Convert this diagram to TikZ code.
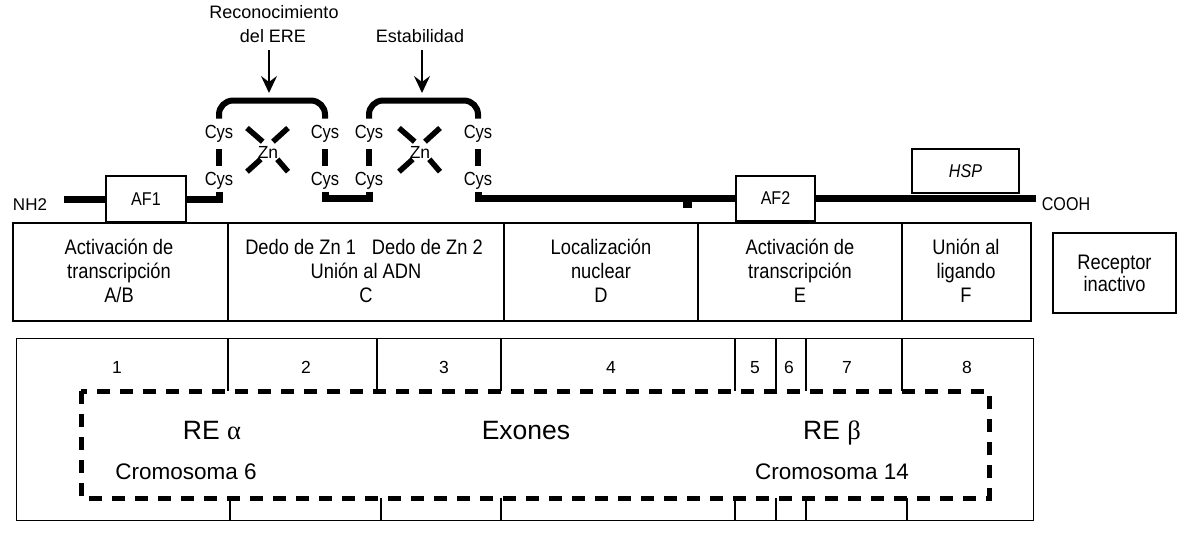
\documentclass[tikz,border=0pt]{standalone}
\usepackage{fontspec}
\setmainfont{Liberation Sans}
\newfontfamily\cond[FakeStretch=0.87]{Liberation Sans}
\newfontfamily\grk{Liberation Serif}
\usetikzlibrary{arrows.meta}
\begin{document}
\begin{tikzpicture}[x=1pt,y=-1pt,
  txt/.style={anchor=base,inner sep=0pt},
  dom/.style={txt,font=\cond\fontsize{21}{24}\selectfont},
  lab/.style={txt,font=\fontsize{18}{21}\selectfont},
  cys/.style={txt,font=\cond\fontsize{19}{21}\selectfont},
  num/.style={txt,font=\fontsize{17.5}{20}\selectfont},
  big/.style={txt,font=\fontsize{26.5}{30}\selectfont},
  chrom/.style={txt,font=\fontsize{22.5}{26}\selectfont},
  endlab/.style={txt,font=\cond\fontsize{18.5}{21}\selectfont},
  box/.style={draw,line width=1.2pt,inner sep=0pt,font=\cond\fontsize{18.5}{21}\selectfont},
  backbone/.style={line width=7pt},
  bond/.style={line width=6pt,shorten <=7pt,shorten >=5.5pt},
  bracket/.style={line width=6pt,rounded corners=14pt},
  arm/.style={line width=5.5pt},
  arr/.style={line width=1.8pt,shorten <=8pt,-{Stealth[length=17pt,width=16pt,inset=6pt]}},
  rule/.style={line width=1.2pt},
  dashbox/.style={line width=5pt,dash pattern=on 13pt off 10pt},
]
\useasboundingbox (0,0) rectangle (1185,544);
\fill[white] (0,0) rectangle (1185,544);

% ---- top labels and arrows
\node[lab] (rec1) at (274,18) {Reconocimiento};
\node[lab] (rec2) at (273,42) {del ERE};
\node[lab] (est) at (420,42) {Estabilidad};
\coordinate (t1) at (269,93);
\coordinate (t2) at (422,93);
\draw[arr] (rec2.south -| t1) -- (t1);
\draw[arr] (est.south -| t2) -- (t2);

% ---- Cys labels
\node[cys] (c1t) at (219,138) {Cys};
\node[cys] (c1b) at (219,185) {Cys};
\node[cys] (c2t) at (325,138) {Cys};
\node[cys] (c2b) at (325,185) {Cys};
\node[cys] (c3t) at (369,138) {Cys};
\node[cys] (c3b) at (369,185) {Cys};
\node[cys] (c4t) at (478,138) {Cys};
\node[cys] (c4b) at (478,185) {Cys};
\foreach \i in {1,2,3,4}{\draw[bond] (c\i t) -- (c\i b);}

% ---- brackets
\draw[bracket] ([yshift=6pt]c1t.north) -- ++(0,-18) -| ([yshift=6pt]c2t.north);
\draw[bracket] ([yshift=6pt]c3t.north) -- ++(0,-18) -| ([yshift=6pt]c4t.north);

% ---- zinc fingers
\node[txt,font=\fontsize{17.5}{20}\selectfont] (zn1) at (268,158) {Zn};
\node[txt,font=\fontsize{17.5}{20}\selectfont] (zn2) at (420,158) {Zn};
\foreach \z in {zn1,zn2}{
  \draw[arm] ([shift={(-21,-24)}]\z.center) -- ([shift={(-5.3,-10.3)}]\z.center);
  \draw[arm] ([shift={(20,-24)}]\z.center) -- ([shift={(5,-10.3)}]\z.center);
  \draw[arm] ([shift={(-21,19.7)}]\z.center) -- ([shift={(-7.3,7.3)}]\z.center);
  \draw[arm] ([shift={(20,19.7)}]\z.center) -- ([shift={(9.3,7.3)}]\z.center);
}

% ---- backbone
\node[txt,font=\fontsize{17}{20}\selectfont] (nh2) at (30,210.7) {NH2};
\node[endlab] (cooh) at (1066,210.7) {COOH};
\node[box,minimum width=80pt,minimum height=46pt] (af1) at (146,199) {AF1};
\node[box,minimum width=79pt,minimum height=45pt] (af2) at (775.5,198.5) {AF2};
\node[box,minimum width=107pt,minimum height=44pt] (hsp) at (965.5,171) {\itshape HSP};
\draw[backbone,shorten <=17pt] (nh2.east |- af1.west) -- (af1.west);
\draw[backbone] (af1.east) -| ([yshift=-3.3pt]c1b.south);
\draw[backbone] ([yshift=-3.3pt]c2b.south) -- ++(0,6) -| ([yshift=-3.3pt]c3b.south);
\draw[backbone] ([yshift=-3.3pt]c4b.south) |- (af2.west);
\draw[backbone,shorten >=6pt] (af2.east) -- (af2.east -| cooh.west);
\fill (683,200) rectangle (692,208);

% ---- domain row
\draw[rule] (13,223) rectangle (1031,321);
\foreach \x in {228,504,698,902}{\draw[rule] (\x,223) -- (\x,321);}
\node[dom] (ab1) at (119,254) {Activación de};
\node[dom] (ab2) at (119,278) {transcripción};
\node[dom] (ab3) at (119,302) {A/B};
\node[dom] (c1) at (364,254) {Dedo de Zn 1\hspace{16pt}Dedo de Zn 2};
\node[dom] (c2) at (366,278) {Unión al ADN};
\node[dom] (c3) at (366,302) {C};
\node[dom] (d1) at (601,254) {Localización};
\node[dom] (d2) at (601,278) {nuclear};
\node[dom] (d3) at (601,302) {D};
\node[dom] (e1) at (800,254) {Activación de};
\node[dom] (e2) at (800,278) {transcripción};
\node[dom] (e3) at (800,302) {E};
\node[dom] (f1) at (966,254) {Unión al};
\node[dom] (f2) at (966,278) {ligando};
\node[dom] (f3) at (966,302) {F};
\node[box,minimum width=123pt,minimum height=80pt,align=center,
  font=\cond\fontsize{21}{22}\selectfont] (rec) at (1114.5,273) {Receptor\\inactivo};

% ---- exon row
\draw[line width=1pt] (16,338) rectangle (1033,520);
\foreach \x in {228,377,501,735,776,806,902}{\draw[line width=1.2pt] (\x,338) -- (\x,391);}
\foreach \x in {230,381,501,735,776,806,907}{\draw[line width=1.2pt] (\x,498) -- (\x,520);}
\foreach \x/\n in {117/1,306/2,444/3,611/4,755/5,789/6,847/7,967/8}{
  \node[num] (ex\n) at (\x,373) {\n};}
\draw[dashbox] (81,391) rectangle (989,498);
\node[big] (rea) at (212,439) {RE {\grk α}};
\node[big] (exo) at (526,439) {Exones};
\node[big] (reb) at (832,439) {RE {\grk β}};
\node[chrom] (cr6) at (186,479) {Cromosoma 6};
\node[chrom] (cr14) at (832,479) {Cromosoma 14};
\end{tikzpicture}
\end{document}
